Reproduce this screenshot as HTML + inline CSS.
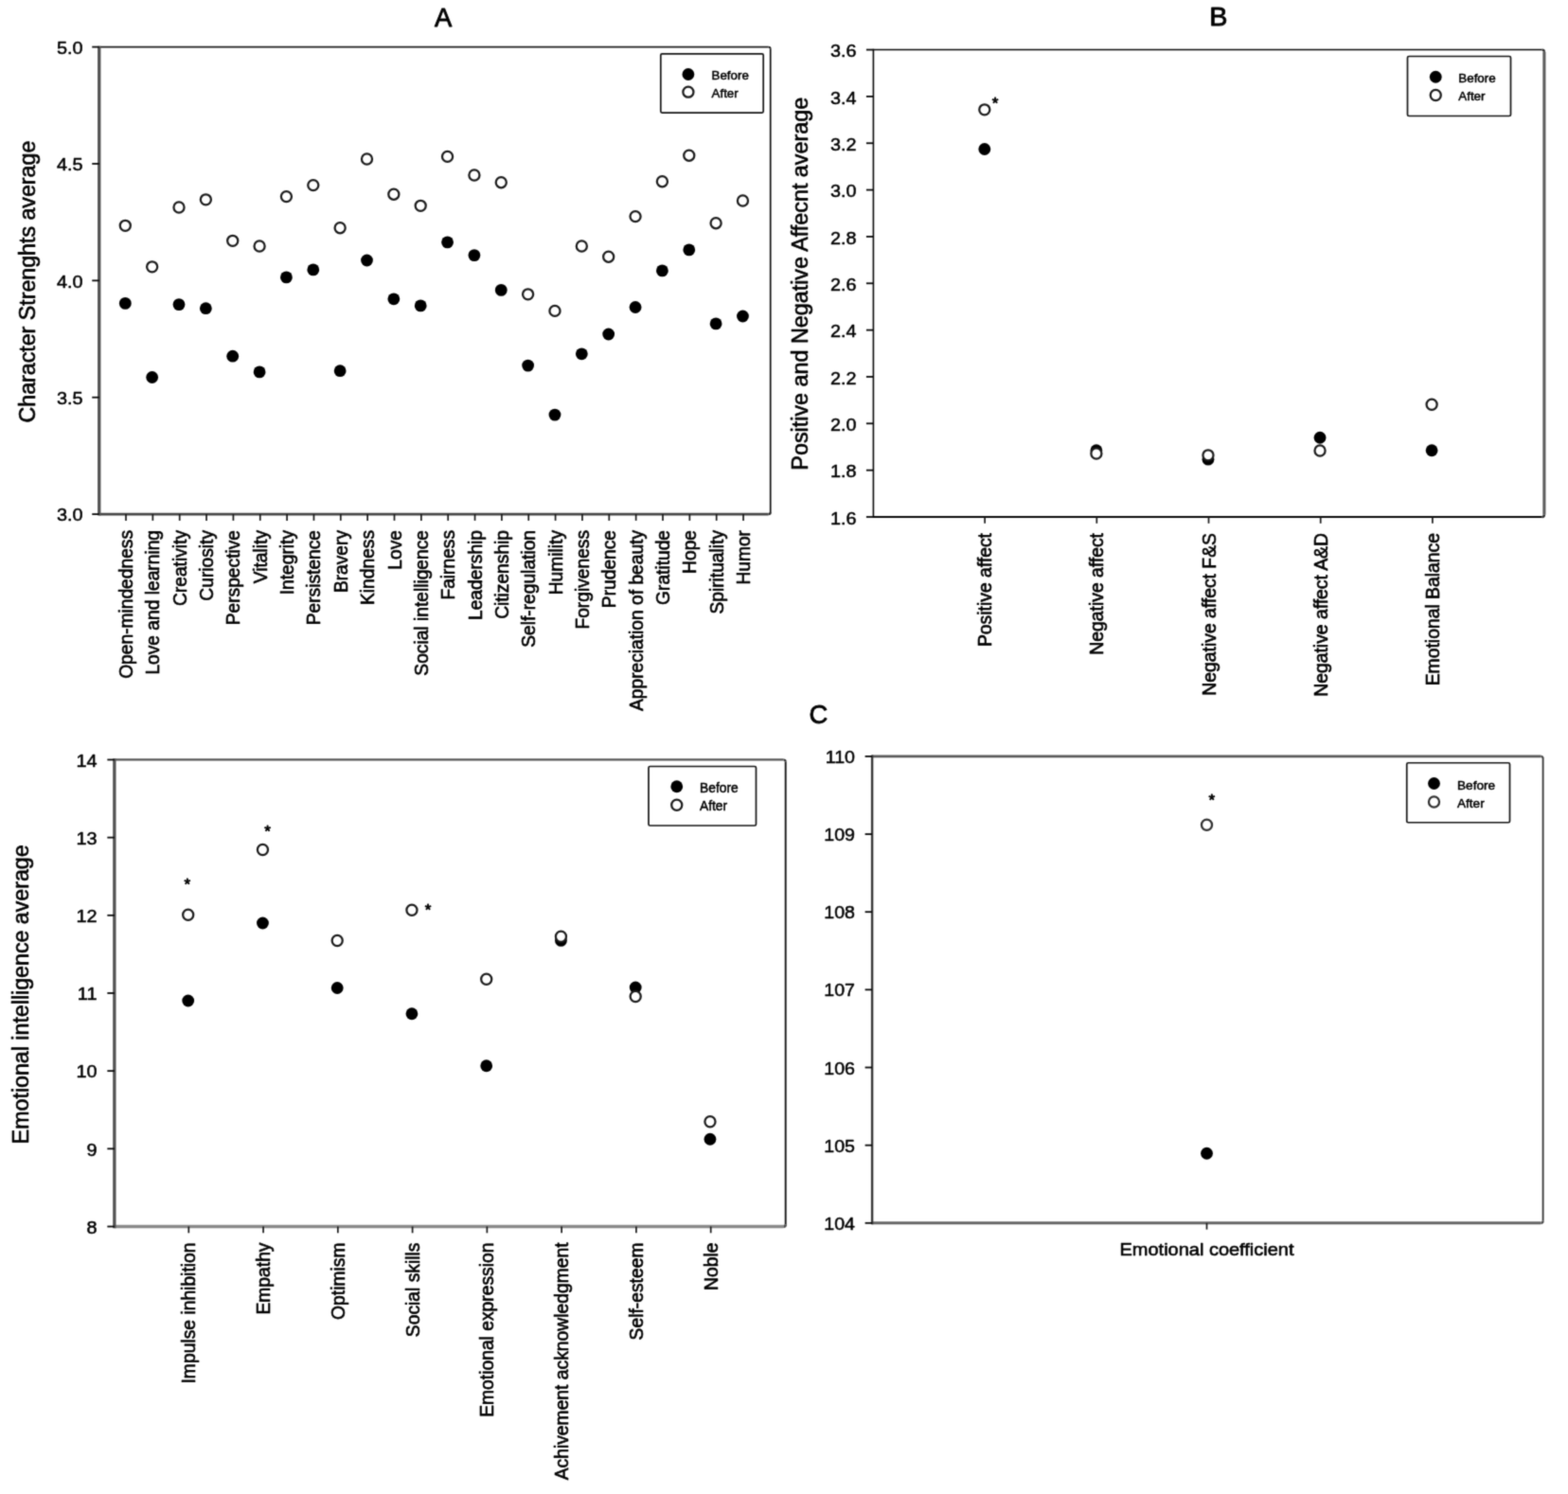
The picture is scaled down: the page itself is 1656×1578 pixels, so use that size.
<!DOCTYPE html>
<html lang="en"><head><meta charset="utf-8"><title>Figure: Before and After averages</title>
<style>
html,body{margin:0;padding:0;background:#fff;}
body{width:1656px;height:1578px;overflow:hidden;}
svg{display:block;font-family:"Liberation Sans",sans-serif;}
svg text{fill:#000;stroke:#000;stroke-width:0.6px;stroke-linejoin:round;}
</style></head><body>
<svg width="1656" height="1578" viewBox="0 0 1656 1578">
<defs><filter id="soft" filterUnits="userSpaceOnUse" x="0" y="0" width="1656" height="1578" color-interpolation-filters="sRGB"><feConvolveMatrix order="3" kernelMatrix="1 4 1 4 16 4 1 4 1" edgeMode="duplicate" preserveAlpha="true"/></filter></defs>
<g filter="url(#soft)">
<rect x="-5" y="-5" width="1666" height="1588" fill="#fff" stroke="none"/>
<g id="panel-a">
<text transform="translate(468.1 28)" font-size="27.4" text-anchor="middle" style="stroke-width:0.8px">A</text>
<line x1="104.75" y1="49.6" x2="811.5" y2="49.6" stroke="#1f1f1f" stroke-width="1.9" stroke-linecap="butt"/>
<line x1="104.75" y1="543.1" x2="811.5" y2="543.1" stroke="#474747" stroke-width="2.8" stroke-linecap="butt"/>
<line x1="104.75" y1="48.65" x2="104.75" y2="544.5" stroke="#525252" stroke-width="3.3" stroke-linecap="butt"/>
<line x1="813.7" y1="51.8" x2="813.7" y2="540.9" stroke="#0f0f0f" stroke-width="1.7" stroke-linecap="butt"/>
<path d="M811.5 49.6A2.2 2.2 0 0 1 813.7 51.8" fill="none" stroke="#171717" stroke-width="1.80"/>
<path d="M813.7 540.9A2.2 2.2 0 0 1 811.5 543.1" fill="none" stroke="#2b2b2b" stroke-width="2.25"/>
<line x1="97.25" y1="49.6" x2="104.75" y2="49.6" stroke="#0a0a0a" stroke-width="1.8" stroke-linecap="butt"/>
<text transform="translate(87.5 56.84) scale(1.03 0.99)" font-size="19.3" text-anchor="end" style="stroke-width:0.5px">5.0</text>
<line x1="97.25" y1="172.97" x2="104.75" y2="172.97" stroke="#0a0a0a" stroke-width="1.8" stroke-linecap="butt"/>
<text transform="translate(87.5 180.22) scale(1.03 0.99)" font-size="19.3" text-anchor="end" style="stroke-width:0.5px">4.5</text>
<line x1="97.25" y1="296.35" x2="104.75" y2="296.35" stroke="#0a0a0a" stroke-width="1.8" stroke-linecap="butt"/>
<text transform="translate(87.5 303.59) scale(1.03 0.99)" font-size="19.3" text-anchor="end" style="stroke-width:0.5px">4.0</text>
<line x1="97.25" y1="419.73" x2="104.75" y2="419.73" stroke="#0a0a0a" stroke-width="1.8" stroke-linecap="butt"/>
<text transform="translate(87.5 426.97) scale(1.03 0.99)" font-size="19.3" text-anchor="end" style="stroke-width:0.5px">3.5</text>
<line x1="97.25" y1="543.1" x2="104.75" y2="543.1" stroke="#0a0a0a" stroke-width="1.8" stroke-linecap="butt"/>
<text transform="translate(87.5 550.34) scale(1.03 0.99)" font-size="19.3" text-anchor="end" style="stroke-width:0.5px">3.0</text>
<line x1="133" y1="543.1" x2="133" y2="549.9" stroke="#1a1a1a" stroke-width="1.7" stroke-linecap="butt"/>
<text transform="translate(140 560) rotate(-90) scale(1.0 1.04)" font-size="19.2" text-anchor="end">Open-mindedness</text>
<line x1="161.35" y1="543.1" x2="161.35" y2="549.9" stroke="#1a1a1a" stroke-width="1.7" stroke-linecap="butt"/>
<text transform="translate(168.35 560) rotate(-90) scale(1.0 1.04)" font-size="19.2" text-anchor="end">Love and learning</text>
<line x1="189.7" y1="543.1" x2="189.7" y2="549.9" stroke="#1a1a1a" stroke-width="1.7" stroke-linecap="butt"/>
<text transform="translate(196.7 560) rotate(-90) scale(1.0 1.04)" font-size="19.2" text-anchor="end">Creativity</text>
<line x1="218.05" y1="543.1" x2="218.05" y2="549.9" stroke="#1a1a1a" stroke-width="1.7" stroke-linecap="butt"/>
<text transform="translate(225.05 560) rotate(-90) scale(1.0 1.04)" font-size="19.2" text-anchor="end">Curiosity</text>
<line x1="246.4" y1="543.1" x2="246.4" y2="549.9" stroke="#1a1a1a" stroke-width="1.7" stroke-linecap="butt"/>
<text transform="translate(253.4 560) rotate(-90) scale(1.0 1.04)" font-size="19.2" text-anchor="end">Perspective</text>
<line x1="274.75" y1="543.1" x2="274.75" y2="549.9" stroke="#1a1a1a" stroke-width="1.7" stroke-linecap="butt"/>
<text transform="translate(281.75 560) rotate(-90) scale(1.0 1.04)" font-size="19.2" text-anchor="end">Vitality</text>
<line x1="303.1" y1="543.1" x2="303.1" y2="549.9" stroke="#1a1a1a" stroke-width="1.7" stroke-linecap="butt"/>
<text transform="translate(310.1 560) rotate(-90) scale(1.0 1.04)" font-size="19.2" text-anchor="end">Integrity</text>
<line x1="331.45" y1="543.1" x2="331.45" y2="549.9" stroke="#1a1a1a" stroke-width="1.7" stroke-linecap="butt"/>
<text transform="translate(338.45 560) rotate(-90) scale(1.0 1.04)" font-size="19.2" text-anchor="end">Persistence</text>
<line x1="359.8" y1="543.1" x2="359.8" y2="549.9" stroke="#1a1a1a" stroke-width="1.7" stroke-linecap="butt"/>
<text transform="translate(366.8 560) rotate(-90) scale(1.0 1.04)" font-size="19.2" text-anchor="end">Bravery</text>
<line x1="388.15" y1="543.1" x2="388.15" y2="549.9" stroke="#1a1a1a" stroke-width="1.7" stroke-linecap="butt"/>
<text transform="translate(395.15 560) rotate(-90) scale(1.0 1.04)" font-size="19.2" text-anchor="end">Kindness</text>
<line x1="416.5" y1="543.1" x2="416.5" y2="549.9" stroke="#1a1a1a" stroke-width="1.7" stroke-linecap="butt"/>
<text transform="translate(423.5 560) rotate(-90) scale(1.0 1.04)" font-size="19.2" text-anchor="end">Love</text>
<line x1="444.85" y1="543.1" x2="444.85" y2="549.9" stroke="#1a1a1a" stroke-width="1.7" stroke-linecap="butt"/>
<text transform="translate(451.85 560) rotate(-90) scale(1.0 1.04)" font-size="19.2" text-anchor="end">Social intelligence</text>
<line x1="473.2" y1="543.1" x2="473.2" y2="549.9" stroke="#1a1a1a" stroke-width="1.7" stroke-linecap="butt"/>
<text transform="translate(480.2 560) rotate(-90) scale(1.0 1.04)" font-size="19.2" text-anchor="end">Fairness</text>
<line x1="501.55" y1="543.1" x2="501.55" y2="549.9" stroke="#1a1a1a" stroke-width="1.7" stroke-linecap="butt"/>
<text transform="translate(508.55 560) rotate(-90) scale(1.0 1.04)" font-size="19.2" text-anchor="end">Leadership</text>
<line x1="529.9" y1="543.1" x2="529.9" y2="549.9" stroke="#1a1a1a" stroke-width="1.7" stroke-linecap="butt"/>
<text transform="translate(536.9 560) rotate(-90) scale(1.0 1.04)" font-size="19.2" text-anchor="end">Citizenship</text>
<line x1="558.25" y1="543.1" x2="558.25" y2="549.9" stroke="#1a1a1a" stroke-width="1.7" stroke-linecap="butt"/>
<text transform="translate(565.25 560) rotate(-90) scale(1.0 1.04)" font-size="19.2" text-anchor="end">Self-regulation</text>
<line x1="586.6" y1="543.1" x2="586.6" y2="549.9" stroke="#1a1a1a" stroke-width="1.7" stroke-linecap="butt"/>
<text transform="translate(593.6 560) rotate(-90) scale(1.0 1.04)" font-size="19.2" text-anchor="end">Humility</text>
<line x1="614.95" y1="543.1" x2="614.95" y2="549.9" stroke="#1a1a1a" stroke-width="1.7" stroke-linecap="butt"/>
<text transform="translate(621.95 560) rotate(-90) scale(1.0 1.04)" font-size="19.2" text-anchor="end">Forgiveness</text>
<line x1="643.3" y1="543.1" x2="643.3" y2="549.9" stroke="#1a1a1a" stroke-width="1.7" stroke-linecap="butt"/>
<text transform="translate(650.3 560) rotate(-90) scale(1.0 1.04)" font-size="19.2" text-anchor="end">Prudence</text>
<line x1="671.65" y1="543.1" x2="671.65" y2="549.9" stroke="#1a1a1a" stroke-width="1.7" stroke-linecap="butt"/>
<text transform="translate(678.65 560) rotate(-90) scale(1.0 1.04)" font-size="19.2" text-anchor="end">Appreciation of beauty</text>
<line x1="700" y1="543.1" x2="700" y2="549.9" stroke="#1a1a1a" stroke-width="1.7" stroke-linecap="butt"/>
<text transform="translate(707 560) rotate(-90) scale(1.0 1.04)" font-size="19.2" text-anchor="end">Gratitude</text>
<line x1="728.35" y1="543.1" x2="728.35" y2="549.9" stroke="#1a1a1a" stroke-width="1.7" stroke-linecap="butt"/>
<text transform="translate(735.35 560) rotate(-90) scale(1.0 1.04)" font-size="19.2" text-anchor="end">Hope</text>
<line x1="756.7" y1="543.1" x2="756.7" y2="549.9" stroke="#1a1a1a" stroke-width="1.7" stroke-linecap="butt"/>
<text transform="translate(763.7 560) rotate(-90) scale(1.0 1.04)" font-size="19.2" text-anchor="end">Spirituality</text>
<line x1="785.05" y1="543.1" x2="785.05" y2="549.9" stroke="#1a1a1a" stroke-width="1.7" stroke-linecap="butt"/>
<text transform="translate(792.05 560) rotate(-90) scale(1.0 1.04)" font-size="19.2" text-anchor="end">Humor</text>
<text transform="translate(36.8 297.6) rotate(-90) scale(1.0 1.04)" font-size="23.2" text-anchor="middle">Character Strenghts average</text>
<circle cx="132.3" cy="320.4" r="6.4" fill="#000"/>
<circle cx="132.3" cy="238.3" r="5.55" fill="#fff" stroke="#1c1c1c" stroke-width="2.25"/>
<circle cx="160.66" cy="398.5" r="6.4" fill="#000"/>
<circle cx="160.66" cy="281.8" r="5.55" fill="#fff" stroke="#1c1c1c" stroke-width="2.25"/>
<circle cx="189.01" cy="321.6" r="6.4" fill="#000"/>
<circle cx="189.01" cy="219" r="5.55" fill="#fff" stroke="#1c1c1c" stroke-width="2.25"/>
<circle cx="217.37" cy="325.7" r="6.4" fill="#000"/>
<circle cx="217.37" cy="210.8" r="5.55" fill="#fff" stroke="#1c1c1c" stroke-width="2.25"/>
<circle cx="245.72" cy="376.2" r="6.4" fill="#000"/>
<circle cx="245.72" cy="254.3" r="5.55" fill="#fff" stroke="#1c1c1c" stroke-width="2.25"/>
<circle cx="274.08" cy="392.9" r="6.4" fill="#000"/>
<circle cx="274.08" cy="260" r="5.55" fill="#fff" stroke="#1c1c1c" stroke-width="2.25"/>
<circle cx="302.43" cy="292.9" r="6.4" fill="#000"/>
<circle cx="302.43" cy="207.6" r="5.55" fill="#fff" stroke="#1c1c1c" stroke-width="2.25"/>
<circle cx="330.79" cy="284.9" r="6.4" fill="#000"/>
<circle cx="330.79" cy="195.6" r="5.55" fill="#fff" stroke="#1c1c1c" stroke-width="2.25"/>
<circle cx="359.14" cy="391.7" r="6.4" fill="#000"/>
<circle cx="359.14" cy="240.7" r="5.55" fill="#fff" stroke="#1c1c1c" stroke-width="2.25"/>
<circle cx="387.5" cy="275" r="6.4" fill="#000"/>
<circle cx="387.5" cy="168" r="5.55" fill="#fff" stroke="#1c1c1c" stroke-width="2.25"/>
<circle cx="415.85" cy="315.8" r="6.4" fill="#000"/>
<circle cx="415.85" cy="205.2" r="5.55" fill="#fff" stroke="#1c1c1c" stroke-width="2.25"/>
<circle cx="444.21" cy="322.9" r="6.4" fill="#000"/>
<circle cx="444.21" cy="217.3" r="5.55" fill="#fff" stroke="#1c1c1c" stroke-width="2.25"/>
<circle cx="472.56" cy="255.9" r="6.4" fill="#000"/>
<circle cx="472.56" cy="165.4" r="5.55" fill="#fff" stroke="#1c1c1c" stroke-width="2.25"/>
<circle cx="500.92" cy="269.6" r="6.4" fill="#000"/>
<circle cx="500.92" cy="185" r="5.55" fill="#fff" stroke="#1c1c1c" stroke-width="2.25"/>
<circle cx="529.27" cy="306.4" r="6.4" fill="#000"/>
<circle cx="529.27" cy="192.7" r="5.55" fill="#fff" stroke="#1c1c1c" stroke-width="2.25"/>
<circle cx="557.62" cy="386.1" r="6.4" fill="#000"/>
<circle cx="557.62" cy="310.8" r="5.55" fill="#fff" stroke="#1c1c1c" stroke-width="2.25"/>
<circle cx="585.98" cy="438.1" r="6.4" fill="#000"/>
<circle cx="585.98" cy="328.4" r="5.55" fill="#fff" stroke="#1c1c1c" stroke-width="2.25"/>
<circle cx="614.34" cy="373.8" r="6.4" fill="#000"/>
<circle cx="614.34" cy="260" r="5.55" fill="#fff" stroke="#1c1c1c" stroke-width="2.25"/>
<circle cx="642.69" cy="353" r="6.4" fill="#000"/>
<circle cx="642.69" cy="271.2" r="5.55" fill="#fff" stroke="#1c1c1c" stroke-width="2.25"/>
<circle cx="671.05" cy="324.5" r="6.4" fill="#000"/>
<circle cx="671.05" cy="228.6" r="5.55" fill="#fff" stroke="#1c1c1c" stroke-width="2.25"/>
<circle cx="699.4" cy="285.9" r="6.4" fill="#000"/>
<circle cx="699.4" cy="191.7" r="5.55" fill="#fff" stroke="#1c1c1c" stroke-width="2.25"/>
<circle cx="727.76" cy="263.9" r="6.4" fill="#000"/>
<circle cx="727.76" cy="164.2" r="5.55" fill="#fff" stroke="#1c1c1c" stroke-width="2.25"/>
<circle cx="756.11" cy="341.9" r="6.4" fill="#000"/>
<circle cx="756.11" cy="235.7" r="5.55" fill="#fff" stroke="#1c1c1c" stroke-width="2.25"/>
<circle cx="784.46" cy="334" r="6.4" fill="#000"/>
<circle cx="784.46" cy="212" r="5.55" fill="#fff" stroke="#1c1c1c" stroke-width="2.25"/>
<rect x="697.8" y="56.8" width="108.4" height="62.3" rx="1.5" fill="#fff" stroke="#161616" stroke-width="1.7"/>
<circle cx="726.9" cy="78.5" r="6.4" fill="#000"/>
<circle cx="726.9" cy="97.2" r="5.55" fill="#fff" stroke="#1c1c1c" stroke-width="2.25"/>
<text transform="translate(751.6 84.1)" font-size="13.3" style="stroke-width:0.5px">Before</text>
<text transform="translate(751.6 102.5)" font-size="13.3" style="stroke-width:0.5px">After</text>
</g>
<g id="panel-b">
<text transform="translate(1286.8 26.9) scale(1.05 1)" font-size="27.4" text-anchor="middle" style="stroke-width:0.8px">B</text>
<line x1="922.4" y1="52.55" x2="1628.7" y2="52.55" stroke="#0a0a0a" stroke-width="1.6" stroke-linecap="butt"/>
<line x1="922.4" y1="546" x2="1628.7" y2="546" stroke="#0a0a0a" stroke-width="1.8" stroke-linecap="butt"/>
<line x1="922.4" y1="51.75" x2="922.4" y2="546.9" stroke="#0a0a0a" stroke-width="1.6" stroke-linecap="butt"/>
<line x1="1630.9" y1="54.75" x2="1630.9" y2="543.8" stroke="#5c5c5c" stroke-width="3.1" stroke-linecap="butt"/>
<path d="M1628.7 52.55A2.2 2.2 0 0 1 1630.9 54.75" fill="none" stroke="#333333" stroke-width="2.35"/>
<path d="M1630.9 543.8A2.2 2.2 0 0 1 1628.7 546" fill="none" stroke="#333333" stroke-width="2.45"/>
<line x1="914.9" y1="52.55" x2="922.4" y2="52.55" stroke="#0a0a0a" stroke-width="1.8" stroke-linecap="butt"/>
<text transform="translate(904.5 60.35) scale(1.03 0.99)" font-size="19.2" text-anchor="end" style="stroke-width:0.5px">3.6</text>
<line x1="914.9" y1="101.89" x2="922.4" y2="101.89" stroke="#0a0a0a" stroke-width="1.8" stroke-linecap="butt"/>
<text transform="translate(904.5 109.7) scale(1.03 0.99)" font-size="19.2" text-anchor="end" style="stroke-width:0.5px">3.4</text>
<line x1="914.9" y1="151.24" x2="922.4" y2="151.24" stroke="#0a0a0a" stroke-width="1.8" stroke-linecap="butt"/>
<text transform="translate(904.5 159.04) scale(1.03 0.99)" font-size="19.2" text-anchor="end" style="stroke-width:0.5px">3.2</text>
<line x1="914.9" y1="200.58" x2="922.4" y2="200.58" stroke="#0a0a0a" stroke-width="1.8" stroke-linecap="butt"/>
<text transform="translate(904.5 208.39) scale(1.03 0.99)" font-size="19.2" text-anchor="end" style="stroke-width:0.5px">3.0</text>
<line x1="914.9" y1="249.93" x2="922.4" y2="249.93" stroke="#0a0a0a" stroke-width="1.8" stroke-linecap="butt"/>
<text transform="translate(904.5 257.73) scale(1.03 0.99)" font-size="19.2" text-anchor="end" style="stroke-width:0.5px">2.8</text>
<line x1="914.9" y1="299.27" x2="922.4" y2="299.27" stroke="#0a0a0a" stroke-width="1.8" stroke-linecap="butt"/>
<text transform="translate(904.5 307.08) scale(1.03 0.99)" font-size="19.2" text-anchor="end" style="stroke-width:0.5px">2.6</text>
<line x1="914.9" y1="348.62" x2="922.4" y2="348.62" stroke="#0a0a0a" stroke-width="1.8" stroke-linecap="butt"/>
<text transform="translate(904.5 356.42) scale(1.03 0.99)" font-size="19.2" text-anchor="end" style="stroke-width:0.5px">2.4</text>
<line x1="914.9" y1="397.97" x2="922.4" y2="397.97" stroke="#0a0a0a" stroke-width="1.8" stroke-linecap="butt"/>
<text transform="translate(904.5 405.77) scale(1.03 0.99)" font-size="19.2" text-anchor="end" style="stroke-width:0.5px">2.2</text>
<line x1="914.9" y1="447.31" x2="922.4" y2="447.31" stroke="#0a0a0a" stroke-width="1.8" stroke-linecap="butt"/>
<text transform="translate(904.5 455.11) scale(1.03 0.99)" font-size="19.2" text-anchor="end" style="stroke-width:0.5px">2.0</text>
<line x1="914.9" y1="496.66" x2="922.4" y2="496.66" stroke="#0a0a0a" stroke-width="1.8" stroke-linecap="butt"/>
<text transform="translate(904.5 504.46) scale(1.03 0.99)" font-size="19.2" text-anchor="end" style="stroke-width:0.5px">1.8</text>
<line x1="914.9" y1="546" x2="922.4" y2="546" stroke="#0a0a0a" stroke-width="1.8" stroke-linecap="butt"/>
<text transform="translate(904.5 553.8) scale(1.03 0.99)" font-size="19.2" text-anchor="end" style="stroke-width:0.5px">1.6</text>
<line x1="1040.1" y1="546" x2="1040.1" y2="552.8" stroke="#1a1a1a" stroke-width="1.7" stroke-linecap="butt"/>
<text transform="translate(1047.1 563) rotate(-90) scale(1.0 1.04)" font-size="19.35" text-anchor="end">Positive affect</text>
<line x1="1158.3" y1="546" x2="1158.3" y2="552.8" stroke="#1a1a1a" stroke-width="1.7" stroke-linecap="butt"/>
<text transform="translate(1165.3 563) rotate(-90) scale(1.0 1.04)" font-size="19.35" text-anchor="end">Negative affect</text>
<line x1="1276.5" y1="546" x2="1276.5" y2="552.8" stroke="#1a1a1a" stroke-width="1.7" stroke-linecap="butt"/>
<text transform="translate(1283.5 563) rotate(-90) scale(1.0 1.04)" font-size="19.35" text-anchor="end">Negative affect F&amp;S</text>
<line x1="1394.7" y1="546" x2="1394.7" y2="552.8" stroke="#1a1a1a" stroke-width="1.7" stroke-linecap="butt"/>
<text transform="translate(1401.7 563) rotate(-90) scale(1.0 1.04)" font-size="19.35" text-anchor="end">Negative affect A&amp;D</text>
<line x1="1512.9" y1="546" x2="1512.9" y2="552.8" stroke="#1a1a1a" stroke-width="1.7" stroke-linecap="butt"/>
<text transform="translate(1519.9 563) rotate(-90) scale(1.0 1.04)" font-size="19.35" text-anchor="end">Emotional Balance</text>
<text transform="translate(853 299.75) rotate(-90)" font-size="23.34" text-anchor="middle">Positive and Negative Affecnt average</text>
<circle cx="1039.8" cy="157.5" r="6.4" fill="#000"/>
<circle cx="1039.8" cy="115.8" r="5.55" fill="#fff" stroke="#1c1c1c" stroke-width="2.25"/>
<circle cx="1157.88" cy="475.7" r="6.4" fill="#000"/>
<circle cx="1157.88" cy="479" r="5.55" fill="#fff" stroke="#1c1c1c" stroke-width="2.25"/>
<circle cx="1275.96" cy="485.2" r="6.4" fill="#000"/>
<circle cx="1275.96" cy="480.8" r="5.55" fill="#fff" stroke="#1c1c1c" stroke-width="2.25"/>
<circle cx="1394.04" cy="462.25" r="6.4" fill="#000"/>
<circle cx="1394.04" cy="476" r="5.55" fill="#fff" stroke="#1c1c1c" stroke-width="2.25"/>
<circle cx="1512.12" cy="475.75" r="6.4" fill="#000"/>
<circle cx="1512.12" cy="427.25" r="5.55" fill="#fff" stroke="#1c1c1c" stroke-width="2.25"/>
<text transform="translate(1051.1 115.44)" font-size="17.0" text-anchor="middle" style="stroke-width:0.8px">*</text>
<rect x="1486.5" y="59.5" width="109" height="63" rx="1.5" fill="#fff" stroke="#161616" stroke-width="1.7"/>
<circle cx="1516.25" cy="81.25" r="6.4" fill="#000"/>
<circle cx="1516.25" cy="100.5" r="5.55" fill="#fff" stroke="#1c1c1c" stroke-width="2.25"/>
<text transform="translate(1540.25 87)" font-size="13.4" style="stroke-width:0.5px">Before</text>
<text transform="translate(1540.25 105.5)" font-size="13.4" style="stroke-width:0.5px">After</text>
</g>
<g id="panel-c">
<text transform="translate(864.4 763.6)" font-size="27.4" text-anchor="middle" style="stroke-width:0.8px">C</text>
<line x1="120.85" y1="802.45" x2="827.5" y2="802.45" stroke="#575757" stroke-width="2.3" stroke-linecap="butt"/>
<line x1="120.85" y1="1295.5" x2="827.5" y2="1295.5" stroke="#8a8a8a" stroke-width="3.7" stroke-linecap="butt"/>
<line x1="120.85" y1="801.3" x2="120.85" y2="1297.35" stroke="#525252" stroke-width="3.3" stroke-linecap="butt"/>
<line x1="829.7" y1="804.65" x2="829.7" y2="1293.3" stroke="#141414" stroke-width="1.9" stroke-linecap="butt"/>
<path d="M827.5 802.45A2.2 2.2 0 0 1 829.7 804.65" fill="none" stroke="#353535" stroke-width="2.10"/>
<path d="M829.7 1293.3A2.2 2.2 0 0 1 827.5 1295.5" fill="none" stroke="#4f4f4f" stroke-width="2.80"/>
<line x1="113.35" y1="802.45" x2="120.85" y2="802.45" stroke="#0a0a0a" stroke-width="1.8" stroke-linecap="butt"/>
<text transform="translate(102.5 809.69) scale(1.03 0.99)" font-size="19.3" text-anchor="end" style="stroke-width:0.5px">14</text>
<line x1="113.35" y1="884.62" x2="120.85" y2="884.62" stroke="#0a0a0a" stroke-width="1.8" stroke-linecap="butt"/>
<text transform="translate(102.5 891.87) scale(1.03 0.99)" font-size="19.3" text-anchor="end" style="stroke-width:0.5px">13</text>
<line x1="113.35" y1="966.8" x2="120.85" y2="966.8" stroke="#0a0a0a" stroke-width="1.8" stroke-linecap="butt"/>
<text transform="translate(102.5 974.04) scale(1.03 0.99)" font-size="19.3" text-anchor="end" style="stroke-width:0.5px">12</text>
<line x1="113.35" y1="1048.97" x2="120.85" y2="1048.97" stroke="#0a0a0a" stroke-width="1.8" stroke-linecap="butt"/>
<text transform="translate(102.5 1056.22) scale(1.03 0.99)" font-size="19.3" text-anchor="end" style="stroke-width:0.5px">11</text>
<line x1="113.35" y1="1131.15" x2="120.85" y2="1131.15" stroke="#0a0a0a" stroke-width="1.8" stroke-linecap="butt"/>
<text transform="translate(102.5 1138.39) scale(1.03 0.99)" font-size="19.3" text-anchor="end" style="stroke-width:0.5px">10</text>
<line x1="113.35" y1="1213.33" x2="120.85" y2="1213.33" stroke="#0a0a0a" stroke-width="1.8" stroke-linecap="butt"/>
<text transform="translate(102.5 1220.57) scale(1.03 0.99)" font-size="19.3" text-anchor="end" style="stroke-width:0.5px">9</text>
<line x1="113.35" y1="1295.5" x2="120.85" y2="1295.5" stroke="#0a0a0a" stroke-width="1.8" stroke-linecap="butt"/>
<text transform="translate(102.5 1302.74) scale(1.03 0.99)" font-size="19.3" text-anchor="end" style="stroke-width:0.5px">8</text>
<line x1="199.3" y1="1295.5" x2="199.3" y2="1302.3" stroke="#1a1a1a" stroke-width="1.7" stroke-linecap="butt"/>
<text transform="translate(206.3 1312.5) rotate(-90) scale(1.0 1.04)" font-size="19.3" text-anchor="end">Impulse inhibition</text>
<line x1="278.07" y1="1295.5" x2="278.07" y2="1302.3" stroke="#1a1a1a" stroke-width="1.7" stroke-linecap="butt"/>
<text transform="translate(285.07 1312.5) rotate(-90) scale(1.0 1.04)" font-size="19.3" text-anchor="end">Empathy</text>
<line x1="356.84" y1="1295.5" x2="356.84" y2="1302.3" stroke="#1a1a1a" stroke-width="1.7" stroke-linecap="butt"/>
<text transform="translate(363.84 1312.5) rotate(-90) scale(1.0 1.04)" font-size="19.3" text-anchor="end">Optimism</text>
<line x1="435.61" y1="1295.5" x2="435.61" y2="1302.3" stroke="#1a1a1a" stroke-width="1.7" stroke-linecap="butt"/>
<text transform="translate(442.61 1312.5) rotate(-90) scale(1.0 1.04)" font-size="19.3" text-anchor="end">Social skills</text>
<line x1="514.38" y1="1295.5" x2="514.38" y2="1302.3" stroke="#1a1a1a" stroke-width="1.7" stroke-linecap="butt"/>
<text transform="translate(521.38 1312.5) rotate(-90) scale(1.0 1.04)" font-size="19.3" text-anchor="end">Emotional expression</text>
<line x1="593.15" y1="1295.5" x2="593.15" y2="1302.3" stroke="#1a1a1a" stroke-width="1.7" stroke-linecap="butt"/>
<text transform="translate(600.15 1312.5) rotate(-90) scale(1.0 1.04)" font-size="19.3" text-anchor="end">Achivement acknowledgment</text>
<line x1="671.92" y1="1295.5" x2="671.92" y2="1302.3" stroke="#1a1a1a" stroke-width="1.7" stroke-linecap="butt"/>
<text transform="translate(678.92 1312.5) rotate(-90) scale(1.0 1.04)" font-size="19.3" text-anchor="end">Self-esteem</text>
<line x1="750.69" y1="1295.5" x2="750.69" y2="1302.3" stroke="#1a1a1a" stroke-width="1.7" stroke-linecap="butt"/>
<text transform="translate(757.69 1312.5) rotate(-90) scale(1.0 1.04)" font-size="19.3" text-anchor="end">Noble</text>
<text transform="translate(30.2 1050.3) rotate(-90) scale(1.0 1.04)" font-size="23.2" text-anchor="middle">Emotional intelligence average</text>
<circle cx="198.7" cy="1057" r="6.4" fill="#000"/>
<circle cx="198.7" cy="966.25" r="5.55" fill="#fff" stroke="#1c1c1c" stroke-width="2.25"/>
<circle cx="277.45" cy="975" r="6.4" fill="#000"/>
<circle cx="277.45" cy="897.5" r="5.55" fill="#fff" stroke="#1c1c1c" stroke-width="2.25"/>
<circle cx="356.2" cy="1043.5" r="6.4" fill="#000"/>
<circle cx="356.2" cy="993.5" r="5.55" fill="#fff" stroke="#1c1c1c" stroke-width="2.25"/>
<circle cx="434.95" cy="1070.75" r="6.4" fill="#000"/>
<circle cx="434.95" cy="961.25" r="5.55" fill="#fff" stroke="#1c1c1c" stroke-width="2.25"/>
<circle cx="513.7" cy="1125.75" r="6.4" fill="#000"/>
<circle cx="513.7" cy="1034.25" r="5.55" fill="#fff" stroke="#1c1c1c" stroke-width="2.25"/>
<circle cx="592.45" cy="993.4" r="6.4" fill="#000"/>
<circle cx="592.45" cy="989.25" r="5.55" fill="#fff" stroke="#1c1c1c" stroke-width="2.25"/>
<circle cx="671.2" cy="1043" r="6.4" fill="#000"/>
<circle cx="671.2" cy="1052.5" r="5.55" fill="#fff" stroke="#1c1c1c" stroke-width="2.25"/>
<circle cx="749.95" cy="1203.25" r="6.4" fill="#000"/>
<circle cx="749.95" cy="1184.75" r="5.55" fill="#fff" stroke="#1c1c1c" stroke-width="2.25"/>
<text transform="translate(197.85 939.84)" font-size="17.0" text-anchor="middle" style="stroke-width:0.8px">*</text>
<text transform="translate(282.6 883.84)" font-size="17.0" text-anchor="middle" style="stroke-width:0.8px">*</text>
<text transform="translate(452.1 966.59)" font-size="17.0" text-anchor="middle" style="stroke-width:0.8px">*</text>
<rect x="685" y="809.5" width="113.5" height="62.5" rx="1.5" fill="#fff" stroke="#161616" stroke-width="1.7"/>
<circle cx="714.75" cy="830.75" r="6.4" fill="#000"/>
<circle cx="714.75" cy="850.25" r="5.55" fill="#fff" stroke="#1c1c1c" stroke-width="2.25"/>
<text transform="translate(739 837)" font-size="13.8" style="stroke-width:0.5px">Before</text>
<text transform="translate(739 856.25)" font-size="13.8" style="stroke-width:0.5px">After</text>
</g>
<g id="panel-d">
<line x1="921.1" y1="798.9" x2="1627.4" y2="798.9" stroke="#5a5a5a" stroke-width="2.6" stroke-linecap="butt"/>
<line x1="921.1" y1="1291.8" x2="1627.4" y2="1291.8" stroke="#666666" stroke-width="2.9" stroke-linecap="butt"/>
<line x1="921.1" y1="797.6" x2="921.1" y2="1293.25" stroke="#383838" stroke-width="2.4" stroke-linecap="butt"/>
<line x1="1629.6" y1="801.1" x2="1629.6" y2="1289.6" stroke="#333333" stroke-width="1.8" stroke-linecap="butt"/>
<path d="M1627.4 798.9A2.2 2.2 0 0 1 1629.6 801.1" fill="none" stroke="#464646" stroke-width="2.20"/>
<path d="M1629.6 1289.6A2.2 2.2 0 0 1 1627.4 1291.8" fill="none" stroke="#4c4c4c" stroke-width="2.35"/>
<line x1="913.6" y1="798.9" x2="921.1" y2="798.9" stroke="#0a0a0a" stroke-width="1.8" stroke-linecap="butt"/>
<text transform="translate(903 806.03) scale(1.03 0.99)" font-size="19.0" text-anchor="end" style="stroke-width:0.5px">110</text>
<line x1="913.6" y1="881.05" x2="921.1" y2="881.05" stroke="#0a0a0a" stroke-width="1.8" stroke-linecap="butt"/>
<text transform="translate(903 888.18) scale(1.03 0.99)" font-size="19.0" text-anchor="end" style="stroke-width:0.5px">109</text>
<line x1="913.6" y1="963.2" x2="921.1" y2="963.2" stroke="#0a0a0a" stroke-width="1.8" stroke-linecap="butt"/>
<text transform="translate(903 970.33) scale(1.03 0.99)" font-size="19.0" text-anchor="end" style="stroke-width:0.5px">108</text>
<line x1="913.6" y1="1045.35" x2="921.1" y2="1045.35" stroke="#0a0a0a" stroke-width="1.8" stroke-linecap="butt"/>
<text transform="translate(903 1052.48) scale(1.03 0.99)" font-size="19.0" text-anchor="end" style="stroke-width:0.5px">107</text>
<line x1="913.6" y1="1127.5" x2="921.1" y2="1127.5" stroke="#0a0a0a" stroke-width="1.8" stroke-linecap="butt"/>
<text transform="translate(903 1134.63) scale(1.03 0.99)" font-size="19.0" text-anchor="end" style="stroke-width:0.5px">106</text>
<line x1="913.6" y1="1209.65" x2="921.1" y2="1209.65" stroke="#0a0a0a" stroke-width="1.8" stroke-linecap="butt"/>
<text transform="translate(903 1216.78) scale(1.03 0.99)" font-size="19.0" text-anchor="end" style="stroke-width:0.5px">105</text>
<line x1="913.6" y1="1291.8" x2="921.1" y2="1291.8" stroke="#0a0a0a" stroke-width="1.8" stroke-linecap="butt"/>
<text transform="translate(903 1298.93) scale(1.03 0.99)" font-size="19.0" text-anchor="end" style="stroke-width:0.5px">104</text>
<line x1="1274.5" y1="1291.8" x2="1274.5" y2="1298.6" stroke="#1a1a1a" stroke-width="1.7" stroke-linecap="butt"/>
<text transform="translate(1274.5 1326.2) scale(1.02 0.95)" font-size="19.6" text-anchor="middle">Emotional coefficient</text>
<circle cx="1274.5" cy="1218.25" r="6.4" fill="#000"/>
<circle cx="1274.5" cy="871.25" r="5.55" fill="#fff" stroke="#303030" stroke-width="2.25"/>
<text transform="translate(1279.8 850.54)" font-size="17.0" text-anchor="middle" style="stroke-width:0.8px">*</text>
<rect x="1485.75" y="805.75" width="108.75" height="63" rx="1.5" fill="#fff" stroke="#161616" stroke-width="1.7"/>
<circle cx="1514.5" cy="827.5" r="6.4" fill="#000"/>
<circle cx="1514.5" cy="847" r="5.55" fill="#fff" stroke="#303030" stroke-width="2.25"/>
<text transform="translate(1539 833.75)" font-size="13.6" style="stroke-width:0.5px">Before</text>
<text transform="translate(1539 852.5)" font-size="13.6" style="stroke-width:0.5px">After</text>
</g>
</g>
</svg></body></html>
